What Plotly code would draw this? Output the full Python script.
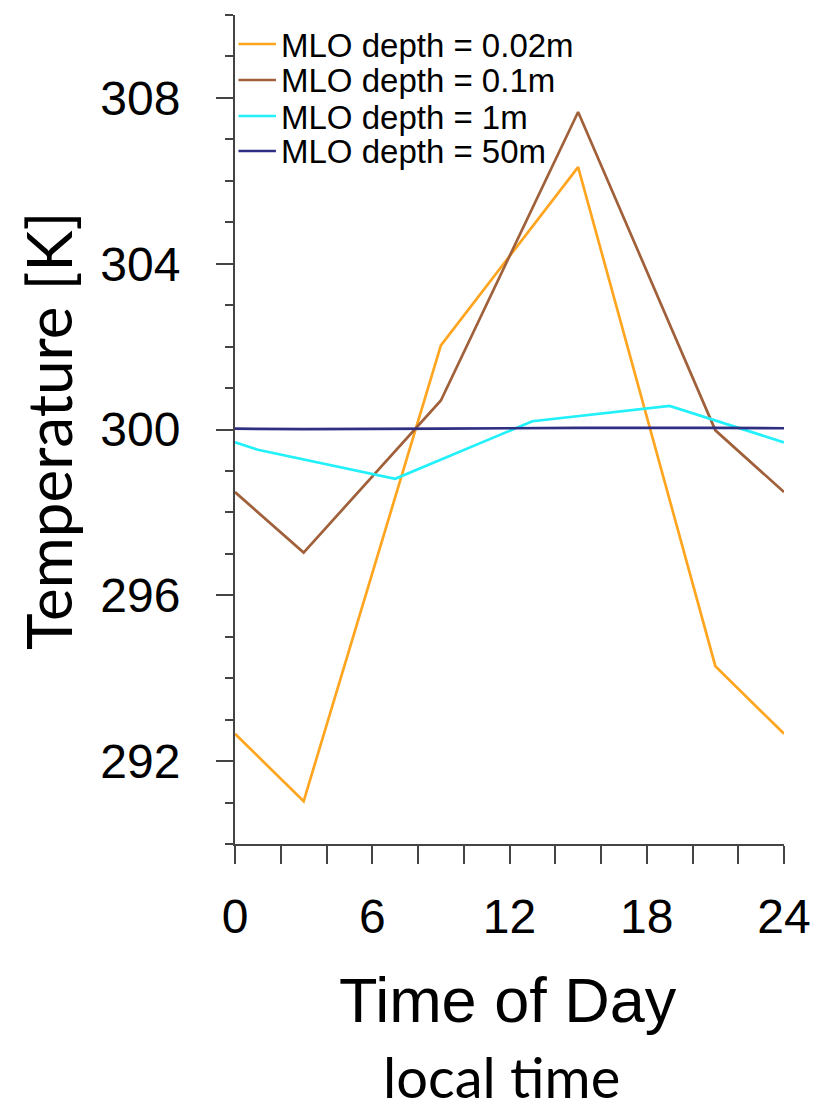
import plotly.graph_objects as go

# ---- data ----
series_names = ["MLO depth = 0.02m", "MLO depth = 0.1m", "MLO depth = 1m", "MLO depth = 50m"]
series_colors = ["#FFA51F", "#A0603A", "#22F0FA", "#2E2E82"]

t_002 = [0, 3, 9, 15, 21, 24]
v_002 = [292.66, 291.03, 302.03, 306.33, 294.29, 292.66]

t_01 = [0, 3, 9, 15, 21, 24]
v_01 = [298.49, 297.03, 300.70, 307.66, 299.98, 298.49]

t_1 = [0, 1, 7, 13, 19, 24]
v_1 = [299.69, 299.51, 298.81, 300.20, 300.57, 299.69]

t_50 = [0, 3, 9, 15, 21, 24]
v_50 = [300.02, 300.01, 300.02, 300.04, 300.04, 300.03]

x_tickvals = [0, 6, 12, 18, 24]
y_tickvals = [292, 296, 300, 304, 308]

# page is 818x1113, but the html body has an 8px margin
OFF = 8
W, H = 818 - OFF, 1113 - OFF
L, R, T, B = 234.5 - OFF, 27, 15 - OFF, 269
pw, ph = W - L - R, H - T - B

def px(x):
    # x: page pixel -> paper
    return (x - OFF - L) / pw

def py(y):
    # y: page pixel -> paper
    return (H - B - (y - OFF)) / ph

fig = go.Figure()
for name, col, tx, vy in zip(series_names, series_colors,
                             [t_002, t_01, t_1, t_50], [v_002, v_01, v_1, v_50]):
    fig.add_trace(go.Scatter(x=tx, y=vy, mode="lines", name=name,
                             line=dict(color=col, width=2.7), showlegend=False))

axcol = "#444444"
fig.update_layout(
    width=W, height=H,
    margin=dict(l=L, r=R, t=T, b=B, pad=0),
    paper_bgcolor="white", plot_bgcolor="white",
    font=dict(family="Liberation Sans, Arial, sans-serif", color="black"),
    xaxis=dict(range=[0, 24], tickvals=x_tickvals, ticks="outside", ticklen=18,
               tickwidth=2, tickcolor=axcol, showline=True, linecolor=axcol, linewidth=2,
               showgrid=False, zeroline=False, tickfont=dict(size=48),
               ticklabelstandoff=11,
               minor=dict(dtick=2, ticks="outside", ticklen=18, tickwidth=2, tickcolor=axcol)),
    yaxis=dict(range=[290, 310], tickvals=y_tickvals, ticks="outside", ticklen=17,
               tickwidth=2, tickcolor=axcol, showline=True, linecolor=axcol, linewidth=2,
               showgrid=False, zeroline=False, tickfont=dict(size=48),
               ticklabelstandoff=26,
               minor=dict(dtick=1, ticks="outside", ticklen=8, tickwidth=2, tickcolor=axcol)),
)

annotations = [
    dict(text="Time of Day", x=px(511), y=py(1000), xref="paper", yref="paper",
         showarrow=False, xanchor="center", yanchor="middle",
         font=dict(size=63, family="Liberation Sans, Arial, sans-serif", color="black")),
    dict(text="local time", x=px(505), y=py(1112), xref="paper", yref="paper",
         showarrow=False, xanchor="center", yanchor="bottom",
         font=dict(size=56, family="Lato, sans-serif", color="black")),
    dict(text="Temperature [K]", x=px(45), y=py(431), xref="paper", yref="paper",
         showarrow=False, xanchor="center", yanchor="middle", textangle=-90,
         font=dict(size=62, family="Lato, sans-serif", color="black")),
]

legend_rows = [44, 80, 116, 151]
shapes = []
for name, col, ry in zip(series_names, series_colors, legend_rows):
    shapes.append(dict(type="line", xref="paper", yref="paper",
                       x0=px(238), x1=px(276), y0=py(ry), y1=py(ry),
                       line=dict(color=col, width=2.7)))
    annotations.append(dict(text=name, x=px(279), y=py(ry + 1), xref="paper", yref="paper",
                            showarrow=False, xanchor="left", yanchor="middle",
                            font=dict(size=33, family="Liberation Sans, Arial, sans-serif",
                                      color="black")))

fig.update_layout(annotations=annotations, shapes=shapes)
fig.write_html("out.html")
